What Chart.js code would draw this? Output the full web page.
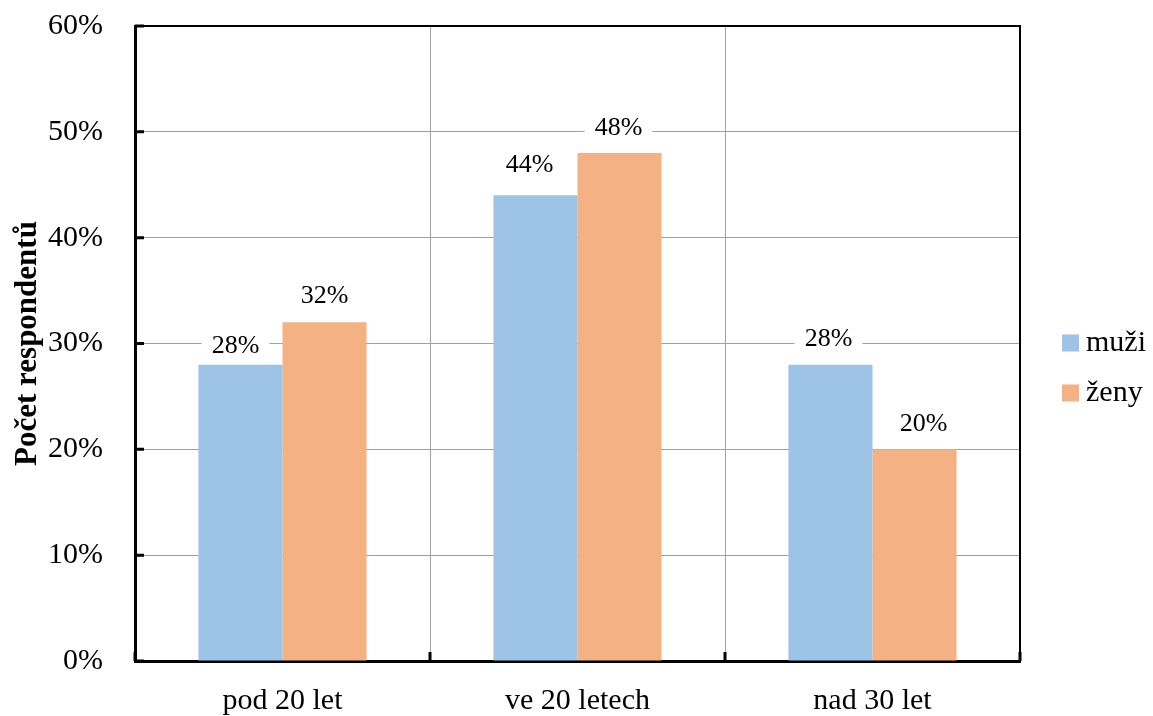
<!DOCTYPE html>
<html>
<head>
<meta charset="utf-8">
<script src="https://cdn.jsdelivr.net/npm/chart.js@4/dist/chart.umd.min.js"></script>
<style>
  html, body { margin: 0; padding: 0; background: #fff; }
  #wrap { width: 1153px; height: 716px; }
</style>
</head>
<body>
<div id="wrap"><canvas id="c"></canvas></div>
<script>
// data
const categories = ['pod 20 let', 've 20 letech', 'nad 30 let'];
const muzi = [28, 44, 28];
const zeny = [32, 48, 20];
const seriesNames = ['muži', 'ženy'];
const seriesColors = ['#9DC3E6', '#F4B183'];
const yTicks = [0, 10, 20, 30, 40, 50, 60];

// value labels sit 25px above the bar, a few were nudged by hand in the original
const labelNudge = [[[-5, 7], [-6, -5], [-2, 0]], [[0, -1], [-1, 0], [9, 0]]];

const SERIF = '"Liberation Serif", "Times New Roman", serif';

// frame, inside tick marks, value labels, legend
const framePlugin = {
    id: 'frame',
    afterDraw(chart) {
        const ctx = chart.ctx, a = chart.chartArea;
        const x = chart.scales.x, y = chart.scales.y;
        ctx.save();
        ctx.strokeStyle = '#000';
        ctx.lineWidth = 2;
        ctx.beginPath();
        ctx.moveTo(a.left, a.top); ctx.lineTo(a.right, a.top); ctx.lineTo(a.right, a.bottom);
        ctx.stroke();
        ctx.lineWidth = 3;
        ctx.beginPath();
        yTicks.forEach(v => {
            const py = y.getPixelForValue(v);
            ctx.moveTo(a.left, py); ctx.lineTo(a.left + 9, py);
        });
        const bounds = [a.left];
        for (let i = 0; i < categories.length - 1; i++) {
            bounds.push((x.getPixelForValue(i) + x.getPixelForValue(i + 1)) / 2);
        }
        bounds.push(a.right);
        bounds.forEach(px => { ctx.moveTo(px, a.bottom); ctx.lineTo(px, a.bottom - 9); });
        ctx.stroke();

        ctx.font = '26px ' + SERIF;
        ctx.textAlign = 'center';
        ctx.textBaseline = 'middle';
        chart.data.datasets.forEach((ds, di) => {
            chart.getDatasetMeta(di).data.forEach((bar, i) => {
                const txt = ds.data[i] + '%';
                const n = labelNudge[di][i];
                const tx = bar.x + n[0], ty = bar.y - 25 + n[1];
                const w = ctx.measureText(txt).width + 20;
                ctx.fillStyle = '#fff';
                ctx.fillRect(tx - w / 2, ty - 14, w, 28);
                ctx.fillStyle = '#000';
                ctx.fillText(txt, tx, ty);
            });
        });

        // legend
        const lx = a.right + 42, ly = (a.top + a.bottom) / 2;
        ctx.font = '30px ' + SERIF;
        ctx.textAlign = 'left';
        seriesNames.forEach((name, i) => {
            const cy = ly + i * 50;
            ctx.fillStyle = seriesColors[i];
            ctx.fillRect(lx, cy - 9, 17, 17);
            ctx.fillStyle = '#000';
            ctx.fillText(name, lx + 24, cy);
        });
        ctx.restore();
    }
};

new Chart(document.getElementById('c'), {
    type: 'bar',
    data: {
        labels: categories,
        datasets: [
            { label: seriesNames[0], data: muzi, backgroundColor: seriesColors[0] },
            { label: seriesNames[1], data: zeny, backgroundColor: seriesColors[1] }
        ]
    },
    options: {
        responsive: true,
        maintainAspectRatio: false,
        animation: false,
        devicePixelRatio: 1,
        categoryPercentage: 0.57,
        barPercentage: 1.0,
        layout: { padding: { left: 0, right: 133, top: 26, bottom: 0 } },
        plugins: {
            legend: { display: false },
            tooltip: { enabled: false }
        },
        scales: {
            x: {
                afterFit: s => { s.height = 55; },
                grid: { offset: true, color: '#a0a0a0', lineWidth: 1, drawTicks: false },
                border: { color: '#000', width: 3 },
                ticks: { color: '#000', padding: 22, font: { family: SERIF, size: 30 } }
            },
            y: {
                min: 0, max: 60,
                afterFit: s => { s.width = 135; },
                grid: { color: '#a0a0a0', lineWidth: 1, drawTicks: true, tickLength: 30, tickColor: 'rgba(0,0,0,0)' },
                border: { color: '#000', width: 3 },
                ticks: {
                    stepSize: 10, padding: 2, color: '#000',
                    font: { family: SERIF, size: 30 },
                    callback: v => v + '%'
                },
                title: {
                    display: true, text: 'Počet respondentů', color: '#000',
                    font: { family: SERIF, size: 31, weight: 'bold' }, padding: 9
                }
            }
        }
    },
    plugins: [framePlugin]
});
</script>
</body>
</html>
